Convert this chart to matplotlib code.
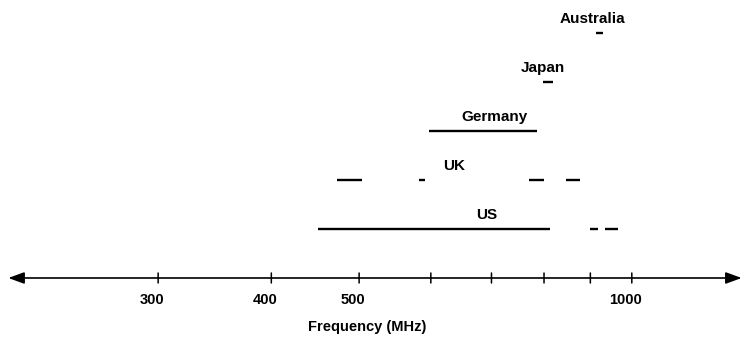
import matplotlib
matplotlib.use('Agg')
import matplotlib.pyplot as plt

plt.rcParams['font.family'] = ['Liberation Sans', 'DejaVu Sans']

# frequency bands (MHz) per country
countries = ['US', 'UK', 'Germany', 'Japan', 'Australia']
bands = [
    [(450, 812), (900, 918), (934, 966)],
    [(473, 504), (582, 591), (770, 800), (846, 876)],
    [(597, 786)],
    [(798, 819)],
    [(913, 929)],
]
label_freq = [692, 636, 706, 798, 904]

tick_freqs = [300, 400, 500, 600, 700, 800, 900, 1000]
tick_labels = ['300', '400', '500', '', '', '', '', '1000']

fig = plt.figure(figsize=(7.44, 3.39), dpi=100)
ax = fig.add_axes([0, 0, 1, 1])
ax.set_xscale('log')
ax.set_xlim(200.7, 1330)
ax.set_ylim(-2.245, 4.673)
ax.axis('off')

# the frequency axis with arrow heads at both ends
axis_y = -1
ax.annotate('', xy=(1322, axis_y), xytext=(205, axis_y),
            arrowprops=dict(arrowstyle='<|-|>,head_length=0.6,head_width=0.22',
                            lw=1.2, color='black',
                            mutation_scale=16, shrinkA=0, shrinkB=0))
for f, lab in zip(tick_freqs, tick_labels):
    ax.annotate('', xy=(f, axis_y), xytext=(0, 5), textcoords='offset pixels',
                arrowprops=dict(arrowstyle='-', lw=1.1, color='black',
                                shrinkA=0, shrinkB=0))
    ax.annotate('', xy=(f, axis_y), xytext=(0, -5), textcoords='offset pixels',
                arrowprops=dict(arrowstyle='-', lw=1.1, color='black',
                                shrinkA=0, shrinkB=0))
    if lab:
        ax.annotate(lab, xy=(f, axis_y), xytext=(-6, -22), textcoords='offset pixels',
                    ha='center', va='center', fontsize=10.5, fontweight='bold')

ax.annotate('Frequency (MHz)', xy=(510, axis_y), xytext=(0, -49),
            textcoords='offset pixels', ha='center', va='center',
            fontsize=10.5, fontweight='bold')

for i, name in enumerate(countries):
    for lo, hi in bands[i]:
        ax.plot([lo, hi], [i, i], color='black', lw=1.7, solid_capstyle='butt')
    ax.annotate(name, xy=(label_freq[i], i), xytext=(0, 10), textcoords='offset pixels',
                ha='center', va='baseline', fontsize=11, fontweight='bold')

fig.savefig('out.png', dpi=100)
